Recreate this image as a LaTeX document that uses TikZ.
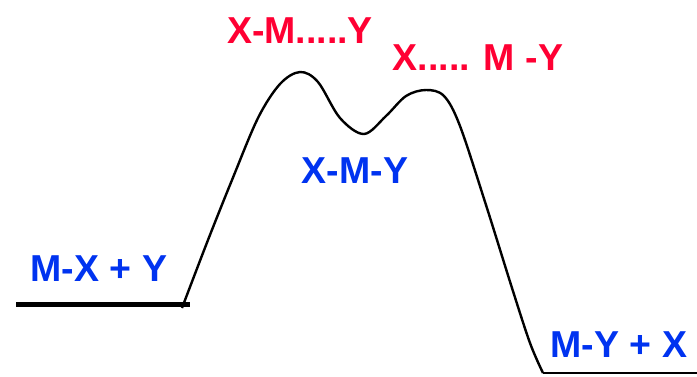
\documentclass[tikz,border=0pt]{standalone}
\usepackage{fontspec}
\setmainfont{Liberation Sans}
\definecolor{lblred}{RGB}{255,0,51}
\definecolor{lblblue}{RGB}{0,51,240}
\begin{document}
\begin{tikzpicture}[x=1pt,y=-1pt,
  lbl/.style={font=\fontsize{37.5}{42}\selectfont\bfseries, inner sep=0pt, anchor=center},
  redlbl/.style={lbl, text=lblred},
  bluelbl/.style={lbl, text=lblblue}]
\useasboundingbox (0,0) rectangle (697,376);
\node[bluelbl] (mxy) at (99,269) {M-X + Y};
\node[redlbl] (ts1) at (300,31) {X-M.....Y};
\node[redlbl] (ts2) at (478,58) {X..... M -Y};
\node[bluelbl] (int) at (355,171) {X-M-Y};
\node[bluelbl] (myx) at (619,345) {M-Y + X};
\coordinate (l1) at (16,304);
\coordinate (l2) at (190,304);
\coordinate (cend) at (543,373);
\coordinate (r2) at (697,373);
\draw[line width=5pt] (l1) -- (l2);
\draw[line width=2.4pt, line join=round]
  plot[smooth, tension=0.55] coordinates {(182,308) (208,240) (232,180) (258,118) (280,84) (300,72) (318,82) (340,118) (364,134) (386,116) (406,96) (426,90) (444,96) (460,126) (486,205) (512,288) (530,343) (543,373)};
\draw[line width=1.8pt] (cend) -- (r2);
\end{tikzpicture}
\end{document}
